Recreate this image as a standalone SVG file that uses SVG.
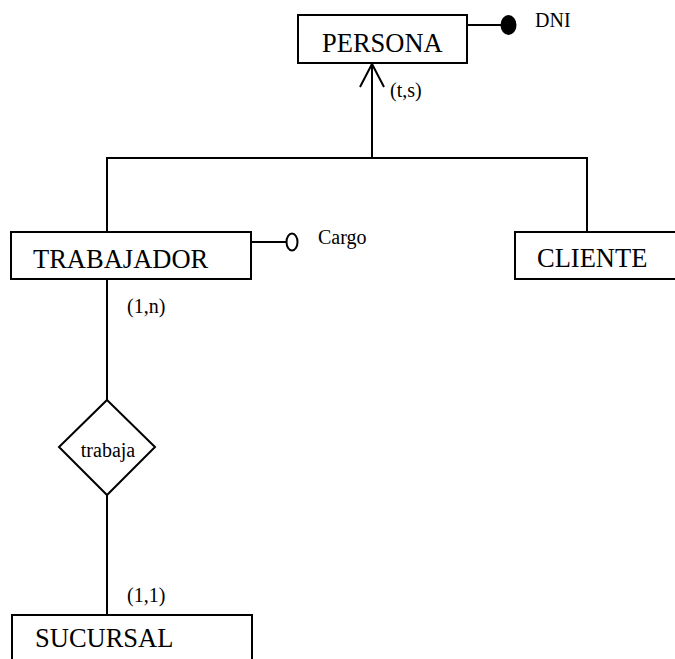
<svg xmlns="http://www.w3.org/2000/svg" width="675" height="659" viewBox="0 0 675 659">
<style>
.box{fill:#fff;stroke:#000;stroke-width:2}
.ln{fill:none;stroke:#000;stroke-width:2}
.ent{font-family:"Liberation Serif","Times New Roman",serif;font-size:26.5px;fill:#000}
.lbl{font-family:"Liberation Serif","Times New Roman",serif;font-size:20px;fill:#000}
</style>
<rect width="675" height="659" fill="#fff"/>
<g id="connectors">
<line class="ln" x1="372" y1="63" x2="372" y2="158"/>
<polyline class="ln" points="360,87 372,64 384,87"/>
<polyline class="ln" points="107,232 107,158 587,158 587,232"/>
<line class="ln" x1="107" y1="279" x2="107" y2="400"/>
<line class="ln" x1="107" y1="495" x2="107" y2="615"/>
<line class="ln" x1="467" y1="25" x2="501" y2="25"/>
<line class="ln" x1="251" y1="242" x2="286" y2="242"/>
<text class="lbl" x="390" y="97">(t,s)</text>
<text class="lbl" x="127" y="313">(1,n)</text>
<text class="lbl" x="127" y="602">(1,1)</text>
</g>
<g id="persona">
<rect class="box" x="298" y="15" width="169" height="48"/>
<text class="ent" x="322" y="52">PERSONA</text>
</g>
<g id="dni">
<ellipse cx="508.5" cy="25" rx="8" ry="10" fill="#000"/>
<text class="lbl" x="535" y="27">DNI</text>
</g>
<g id="trabajador">
<rect class="box" x="11" y="232" width="240" height="47"/>
<text class="ent" x="33" y="268">TRABAJADOR</text>
</g>
<g id="cargo">
<ellipse cx="292" cy="242" rx="5.5" ry="8.5" fill="#fff" stroke="#000" stroke-width="2"/>
<text class="lbl" x="318" y="244">Cargo</text>
</g>
<g id="cliente">
<rect class="box" x="515" y="232" width="170" height="47"/>
<text class="ent" x="537" y="267">CLIENTE</text>
</g>
<g id="trabaja">
<polygon class="box" points="107,400 155,447 107,495 59,447"/>
<text class="lbl" x="108" y="457" text-anchor="middle">trabaja</text>
</g>
<g id="sucursal">
<rect class="box" x="12" y="615" width="240" height="60"/>
<text class="ent" x="35" y="647">SUCURSAL</text>
</g>
</svg>
